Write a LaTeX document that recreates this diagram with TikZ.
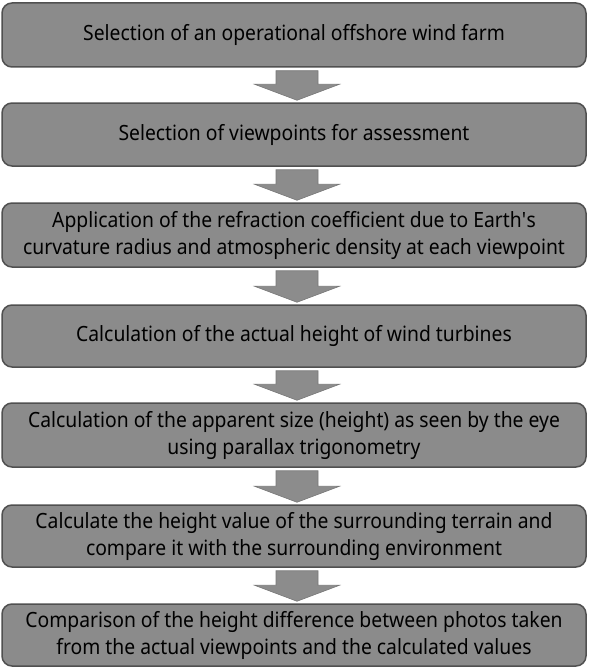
\documentclass[tikz,border=0pt]{standalone}
\usepackage{fontspec}
\setmainfont{Noto Sans}[FakeStretch=0.92]
\usetikzlibrary{calc}
\definecolor{boxfill}{RGB}{139,139,139}
\definecolor{boxline}{RGB}{80,80,80}
\definecolor{arrfill}{RGB}{140,140,140}
\definecolor{arrline}{RGB}{120,120,120}
\newcommand\flowarrow[2]{%
  \filldraw[flowarr]
    ($(#1.south)+(-18,3)$) -- ($(#1.south)+(24,3)$) --
    ($(#2.north)+(24,-18)$) -- ($(#2.north)+(45.5,-18)$) --
    ($(#2.north)+(3,-2)$) -- ($(#2.north)+(-39.5,-18)$) --
    ($(#2.north)+(-18,-18)$) -- cycle;}
\begin{document}
\begin{tikzpicture}[x=1pt,y=-1pt,
  box/.style={draw=boxline, line width=1.5pt, fill=boxfill, rounded corners=10pt,
    minimum width=584pt, align=center, inner sep=0pt,
    font=\fontsize{21}{27}\selectfont},
  flowarr/.style={fill=arrfill, draw=arrline, line width=0.6pt}]
\useasboundingbox (0,0) rectangle (589,669);
\node[box, minimum height=64pt] (b1) at (294,35) {Selection of an operational offshore wind farm};
\node[box, minimum height=63pt] (b2) at (294,134.5) {Selection of viewpoints for assessment};
\node[box, minimum height=64pt] (b3) at (294,235) {Application of the refraction coefficient due to Earth\textquotesingle s\\curvature radius and atmospheric density at each viewpoint};
\node[box, minimum height=62pt] (b4) at (294,336) {Calculation of the actual height of wind turbines};
\node[box, minimum height=64pt] (b5) at (294,435) {Calculation of the apparent size (height) as seen by the eye\\using parallax trigonometry};
\node[box, minimum height=62pt] (b6) at (294,536) {Calculate the height value of the surrounding terrain and\\compare it with the surrounding environment};
\node[box, minimum height=62pt] (b7) at (294,635) {Comparison of the height difference between photos taken\\from the actual viewpoints and the calculated values};
\flowarrow{b1}{b2}
\flowarrow{b2}{b3}
\flowarrow{b3}{b4}
\flowarrow{b4}{b5}
\flowarrow{b5}{b6}
\flowarrow{b6}{b7}
\end{tikzpicture}
\end{document}
